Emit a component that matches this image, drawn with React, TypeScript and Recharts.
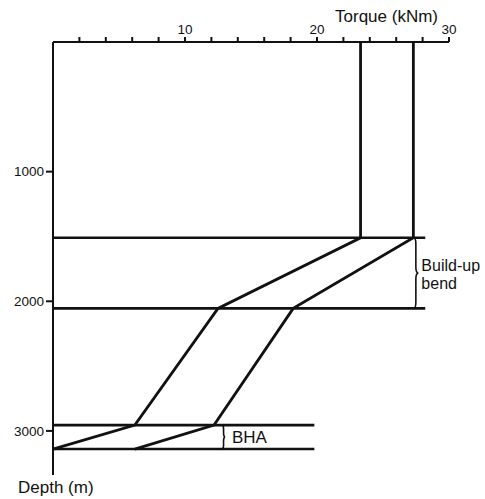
import { ScatterChart, Scatter, XAxis, YAxis, ReferenceLine } from 'recharts'

const torqueTicks = [2, 4, 6, 8, 10, 12, 14, 16, 18, 20, 22, 24, 26, 28, 30]
const torqueLabels = [10, 20, 30]
const depthTicks = [1000, 2000, 3000]

const lowerCurve = [
  { torque: 23.3, depth: 0 },
  { torque: 23.3, depth: 1510 },
  { torque: 12.5, depth: 2055 },
  { torque: 6.2, depth: 2955 },
  { torque: 0, depth: 3140 },
]

const upperCurve = [
  { torque: 27.3, depth: 0 },
  { torque: 27.3, depth: 1510 },
  { torque: 18.2, depth: 2055 },
  { torque: 12.2, depth: 2955 },
  { torque: 6.2, depth: 3140 },
]

const bendDepths = [1510, 2055]
const bendLineEnd = 28.2
const bhaDepths = [2955, 3140]
const bhaLineEnd = 19.8

const bendBraceAt = 27.3
const bhaBraceAt = 12.8
const bendLabel = ['Build-up', 'bend']
const bhaLabel = ['BHA']

const INK = '#111'
const FONT = '"Liberation Sans", Arial, Helvetica, sans-serif'

const NoDot = () => <g />

function bracePath(x: number, y1: number, y2: number, w: number) {
  const ym = (y1 + y2) / 2
  const q = Math.min(6, (y2 - y1) / 6)
  return [
    `M${x},${y1}`,
    `Q${x + w},${y1} ${x + w},${y1 + q}`,
    `L${x + w},${ym - q}`,
    `Q${x + w},${ym} ${x + w * 2},${ym}`,
    `Q${x + w},${ym} ${x + w},${ym + q}`,
    `L${x + w},${y2 - q}`,
    `Q${x + w},${y2} ${x},${y2}`,
  ].join(' ')
}

function makeBrace(lines: string[], w: number, dx: number, dy: number, size: number, gap: number) {
  return (props: any) => {
    const { x1, y1, y2 } = props
    const ym = (y1 + y2) / 2
    return (
      <g>
        <path d={bracePath(x1, y1, y2, w)} fill="none" stroke={INK} strokeWidth={1.6} />
        {lines.map((t, i) => (
          <text key={t} x={x1 + dx} y={ym + dy + i * gap} fill={INK} fontSize={size} fontFamily={FONT}>
            {t}
          </text>
        ))}
      </g>
    )
  }
}

export default function App() {
  return (
    <div style={{ position: 'absolute', left: 0, top: 0, background: '#fff' }}>
      <ScatterChart width={485} height={499} margin={{ top: 0, right: 36, bottom: 24, left: 0 }}>
        <XAxis
          type="number"
          dataKey="torque"
          orientation="top"
          domain={[0, 30]}
          ticks={torqueTicks}
          height={42}
          tickSize={5}
          tickMargin={3}
          tickFormatter={(v: number) => (torqueLabels.includes(v) ? String(v) : '')}
          tick={{ fill: INK, fontSize: 13.5, fontFamily: FONT }}
          axisLine={{ stroke: INK, strokeWidth: 2 }}
          tickLine={{ stroke: INK, strokeWidth: 2 }}
          label={({ viewBox }: any) => (
            <text
              x={viewBox.x + viewBox.width - 11}
              y={22}
              textAnchor="end"
              fill={INK}
              fontSize={17}
              fontFamily={FONT}
            >
              Torque (kNm)
            </text>
          )}
        />
        <YAxis
          type="number"
          dataKey="depth"
          reversed
          domain={[0, 3340]}
          ticks={depthTicks}
          width={53}
          tickSize={7}
          tickMargin={2}
          tick={{ fill: INK, fontSize: 13.5, fontFamily: FONT }}
          axisLine={{ stroke: INK, strokeWidth: 2 }}
          tickLine={{ stroke: INK, strokeWidth: 2 }}
          label={() => (
            <text x={18} y={493} fill={INK} fontSize={17} fontFamily={FONT}>
              Depth (m)
            </text>
          )}
        />

        {bendDepths.map((d) => (
          <ReferenceLine
            key={`bend-${d}`}
            segment={[{ x: 0, y: d }, { x: bendLineEnd, y: d }]}
            stroke={INK}
            strokeWidth={2.6}
          />
        ))}
        {bhaDepths.map((d) => (
          <ReferenceLine
            key={`bha-${d}`}
            segment={[{ x: 0, y: d }, { x: bhaLineEnd, y: d }]}
            stroke={INK}
            strokeWidth={2.6}
          />
        ))}

        <ReferenceLine
          segment={[{ x: bendBraceAt, y: bendDepths[0] }, { x: bendBraceAt, y: bendDepths[1] }]}
          shape={makeBrace(bendLabel, 2.5, 8, -2, 16, 18)}
        />
        <ReferenceLine
          segment={[{ x: bhaBraceAt, y: bhaDepths[0] }, { x: bhaBraceAt, y: bhaDepths[1] }]}
          shape={makeBrace(bhaLabel, 1.6, 10, 6, 17, 0)}
        />

        <Scatter
          data={lowerCurve}
          fill={INK}
          line={{ stroke: INK, strokeWidth: 2.8 }}
          shape={NoDot}
          isAnimationActive={false}
        />
        <Scatter
          data={upperCurve}
          fill={INK}
          line={{ stroke: INK, strokeWidth: 2.8 }}
          shape={NoDot}
          isAnimationActive={false}
        />
      </ScatterChart>
    </div>
  )
}
